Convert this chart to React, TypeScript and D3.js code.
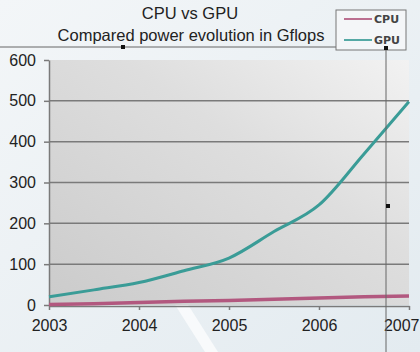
import React, {useEffect, useRef} from 'react';
import * as d3 from "d3";

const years = [2003, 2004, 2005, 2006, 2007];
const yTicks = [0, 100, 200, 300, 400, 500, 600];
const gpuX = [2003, 2003.5, 2004, 2004.5, 2005, 2005.5, 2006, 2006.5, 2007];
const gpuValues = [20, 37, 55, 84, 115, 180, 245, 370, 498];
const cpuX = [2003, 2003.5, 2004, 2004.5, 2005, 2005.5, 2006, 2006.5, 2007];
const cpuValues = [1, 3, 6, 9, 11, 14, 17, 20, 22];
const seriesNames = ['CPU', 'GPU'];
const colors = {"CPU": "#b2587f", "GPU": "#3a9c97"};

export default function App() {
    const svgRef = useRef(null);

    useEffect(() => {
        const svg = d3.select(svgRef.current);
        svg.selectAll("*").remove();
        const width = 420, height = 352;
        const margin = {top: 60, right: 11, bottom: 47, left: 49};

        const xScale = d3.scaleLinear()
            .domain([2003, 2007])
            .range([margin.left, width - margin.right]);
        const yScale = d3.scaleLinear()
            .domain([0, 600])
            .range([height - margin.bottom, margin.top]);

        const defs = svg.append('defs');
        const bg = defs.append('linearGradient').attr('id', 'pagebg')
            .attr('x1', 0).attr('y1', 0).attr('x2', 1).attr('y2', 1);
        bg.append('stop').attr('offset', '0%').attr('stop-color', '#f3f6f8');
        bg.append('stop').attr('offset', '100%').attr('stop-color', '#e3ebf0');
        const plotbg = defs.append('linearGradient').attr('id', 'plotbg')
            .attr('x1', 0).attr('y1', 1).attr('x2', 1).attr('y2', 0);
        plotbg.append('stop').attr('offset', '0%').attr('stop-color', '#cbcbcb');
        plotbg.append('stop').attr('offset', '60%').attr('stop-color', '#dedede');
        plotbg.append('stop').attr('offset', '100%').attr('stop-color', '#f2f2f2');

        svg.append('rect').attr('width', width).attr('height', height).attr('fill', 'url(#pagebg)');
        // diagonal light streak
        svg.append('path')
            .attr('d', `M172,300 L185,300 L218,352 L205,352 Z`)
            .attr('fill', '#ffffff').attr('opacity', 0.7);

        svg.append('rect')
            .attr('x', xScale(2003)).attr('y', yScale(600))
            .attr('width', xScale(2007) - xScale(2003))
            .attr('height', yScale(0) - yScale(600))
            .attr('fill', 'url(#plotbg)');

        // gridlines
        svg.append('g')
            .selectAll('line')
            .data(yTicks.filter(d => d > 0 && d < 600))
            .join('line')
            .attr('x1', xScale(2003)).attr('x2', xScale(2007))
            .attr('y1', d => yScale(d)).attr('y2', d => yScale(d))
            .attr('stroke', '#7a7a7a').attr('stroke-width', 1.5);

        // axes
        const font = "'Liberation Sans', Arial, sans-serif";
        const yAxis = svg.append('g')
            .attr('transform', `translate(${margin.left},0)`)
            .call(d3.axisLeft(yScale).tickValues(yTicks).tickSize(5).tickPadding(8).tickSizeOuter(0));
        const xAxis = svg.append('g')
            .attr('transform', `translate(0,${yScale(0) + 1})`)
            .call(d3.axisBottom(xScale).tickValues(years).tickFormat(d3.format('d')).tickSize(4).tickPadding(10).tickSizeOuter(0));
        [yAxis, xAxis].forEach(a => {
            a.selectAll('path, line').attr('stroke', '#7a7a7a').attr('stroke-width', 1.5);
            a.selectAll('text').attr('font-family', font).attr('font-size', 16).attr('fill', '#222');
        });
        // last year label sits against the right edge
        xAxis.selectAll('.tick text').filter(d => d === 2007)
            .attr('text-anchor', 'end').attr('dx', 10);

        const line = d3.line().x(d => xScale(d[0])).y(d => yScale(d[1]));
        svg.append('path')
            .datum(cpuX.map((x, i) => [x, cpuValues[i]]))
            .attr('d', line)
            .attr('fill', 'none').attr('stroke', colors.CPU).attr('stroke-width', 3.5);
        svg.append('path')
            .datum(gpuX.map((x, i) => [x, gpuValues[i]]))
            .attr('d', line.curve(d3.curveMonotoneX))
            .attr('fill', 'none').attr('stroke', colors.GPU).attr('stroke-width', 3);

        // title
        svg.append('text').attr('x', 190).attr('y', 19).attr('text-anchor', 'middle')
            .attr('font-family', font).attr('font-size', 16.5).attr('fill', '#222')
            .text('CPU vs GPU');
        svg.append('text').attr('x', 191).attr('y', 41).attr('text-anchor', 'middle')
            .attr('font-family', font).attr('font-size', 16.5).attr('fill', '#222')
            .text('Compared power evolution in Gflops');

        // annotation lines
        svg.append('path').attr('d', `M0,47 H386 V352`)
            .attr('fill', 'none').attr('stroke', '#666').attr('stroke-width', 1);
        [[123, 47], [386, 48], [388, 206]].forEach(([x, y]) => {
            svg.append('rect').attr('x', x - 2).attr('y', y - 2).attr('width', 4).attr('height', 4).attr('fill', '#111');
        });

        // legend
        const legend = svg.append('g').attr('transform', 'translate(336,10)');
        legend.append('rect').attr('width', 70).attr('height', 40)
            .attr('fill', '#f4f6f8').attr('stroke', '#777').attr('stroke-width', 1);
        seriesNames.forEach((name, i) => {
            const y = 9 + i * 21;
            legend.append('line').attr('x1', 8).attr('x2', 36).attr('y1', y).attr('y2', y)
                .attr('stroke', colors[name]).attr('stroke-width', 2).attr('opacity', 0.85);
            legend.append('text').attr('x', 38).attr('y', y + 4)
                .attr('font-family', "'DejaVu Sans', sans-serif").attr('font-weight', 'bold')
                .attr('font-size', 11).attr('fill', '#444').text(name);
        });
        // small square on top of the legend border
        svg.append('rect').attr('x', 384).attr('y', 46).attr('width', 4).attr('height', 4).attr('fill', '#111');
    }, []);

    return (<svg ref={svgRef} width={420} height={352}
                 style={{position: 'absolute', left: 0, top: 0}}/>);
}
